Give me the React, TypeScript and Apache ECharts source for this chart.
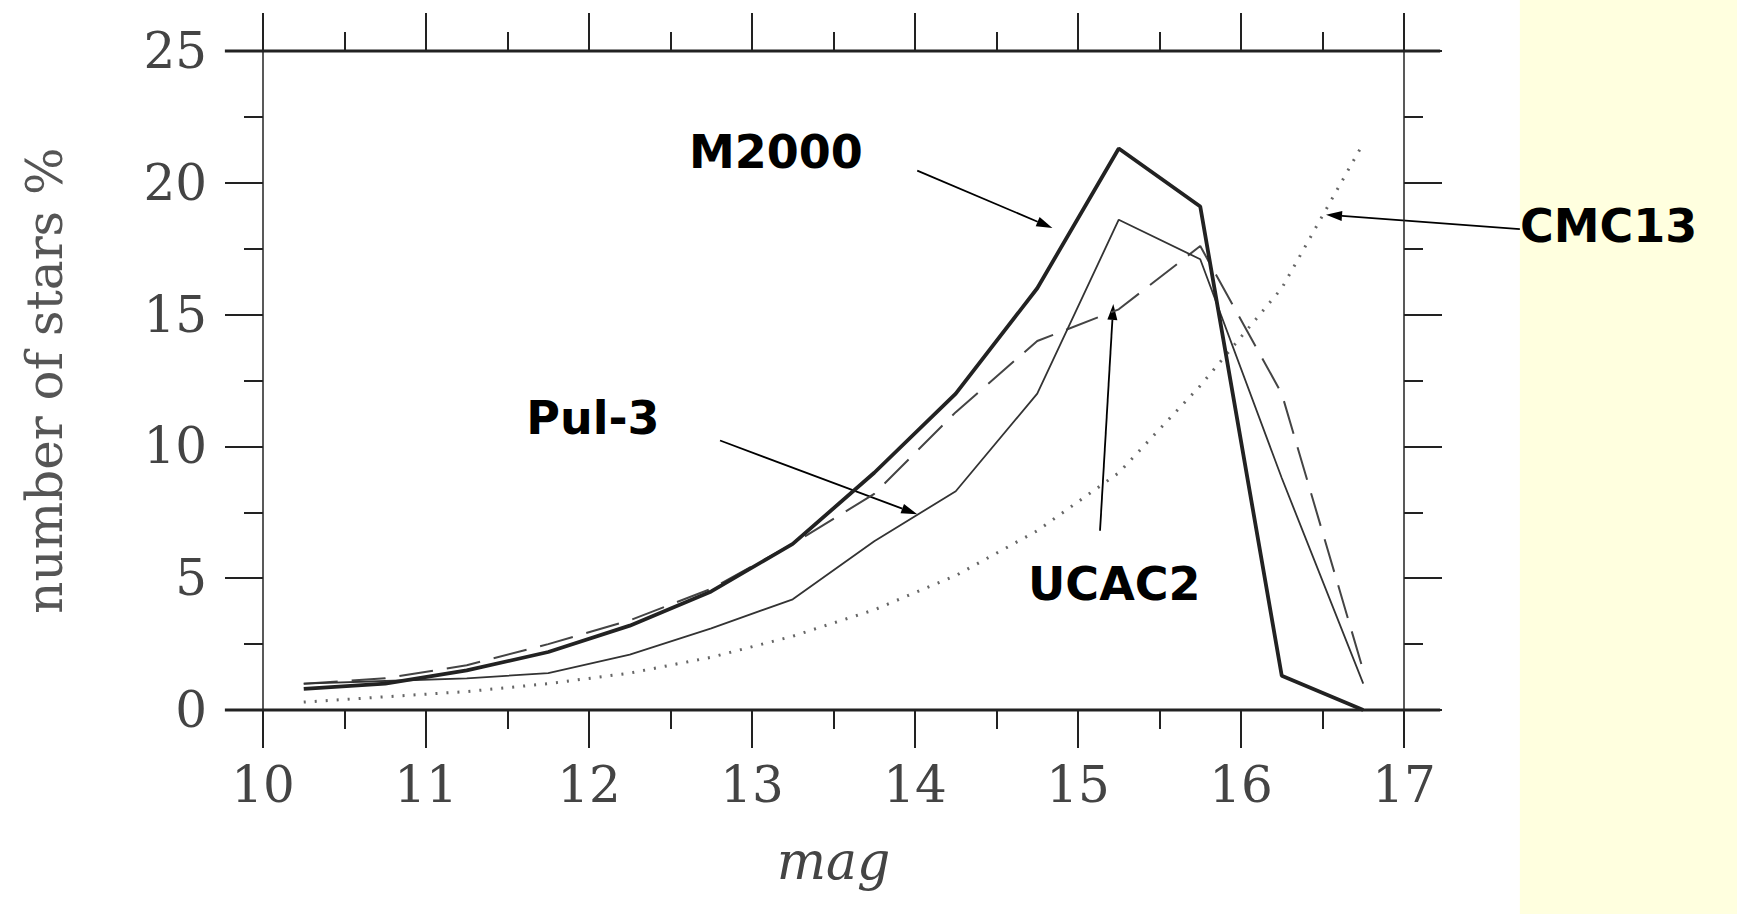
import * as echarts from 'echarts';
import React, { useEffect, useRef } from 'react';

const mags = [10.25, 10.75, 11.25, 11.75, 12.25, 12.75, 13.25, 13.75, 14.25, 14.75, 15.25, 15.75, 16.25, 16.75];
const m2000 = [0.8, 1.0, 1.5, 2.2, 3.2, 4.5, 6.3, 9.0, 12.0, 16.0, 21.3, 19.1, 1.3, 0];
const pul3 = [1.0, 1.1, 1.2, 1.4, 2.1, 3.1, 4.2, 6.4, 8.3, 12.0, 18.6, 17.1, 8.8, 1.0];
const ucac2 = [1.0, 1.2, 1.7, 2.5, 3.4, 4.6, 6.3, 8.2, 11.3, 14.0, 15.2, 17.6, 12.0, 1.5];
const cmc13 = [0.3, 0.5, 0.7, 1.0, 1.4, 2.0, 2.8, 3.8, 5.1, 6.8, 9.0, 12.3, 16.0, 21.5];

const toPairs = (ys: number[]) => mags.map((m, i) => [m, ys[i]]);

// reference was drawn at 1568x830; scale to the window
const fx = 1737 / 1568;
const fy = 914 / 830;

const arrow = (x1: number, y1: number, x2: number, y2: number) => {
  const ax = x1 * fx, ay = y1 * fy, bx = x2 * fx, by = y2 * fy;
  const ang = Math.atan2(by - ay, bx - ax);
  const len = 16, w = 5;
  const px = bx - len * Math.cos(ang), py = by - len * Math.sin(ang);
  return [
    { type: 'line', shape: { x1: ax, y1: ay, x2: px, y2: py }, style: { stroke: '#000', lineWidth: 1.8 } },
    {
      type: 'polygon',
      shape: {
        points: [
          [bx, by],
          [px - w * Math.sin(ang), py + w * Math.cos(ang)],
          [px + w * Math.sin(ang), py - w * Math.cos(ang)],
        ],
      },
      style: { fill: '#000' },
    },
  ];
};

const label = (text: string, x: number, y: number) => ({
  type: 'text',
  x: x * fx,
  y: y * fy,
  style: { text, fill: '#000', font: 'bold 46px "DejaVu Sans"', textVerticalAlign: 'middle' },
});

const App: React.FC = () => {
  const chartRef = useRef<HTMLDivElement>(null);

  useEffect(() => {
    if (!chartRef.current) return;
    const chart = echarts.init(chartRef.current, null, { renderer: 'svg' });
    const axisFont = { fontFamily: '"DejaVu Serif"', fontSize: 50, color: '#444' };
    const tickStyle = { color: '#222', width: 2 };
    chart.setOption({
      animation: false,
      backgroundColor: '#fff',
      grid: { left: 263, right: 333, top: 51, bottom: 204 },
      xAxis: [
        {
          type: 'value', min: 10, max: 17, interval: 1, position: 'bottom',
          name: 'mag', nameLocation: 'middle', nameGap: 125,
          nameTextStyle: { ...axisFont, fontStyle: 'italic', fontSize: 52 },
          axisLine: { show: false, onZero: false },
          axisTick: { show: true, inside: false, length: 38, lineStyle: tickStyle },
          minorTick: { show: true, splitNumber: 2, length: 19, lineStyle: tickStyle },
          axisLabel: { ...axisFont, margin: 50 },
          splitLine: { show: false },
        },
        {
          type: 'value', min: 10, max: 17, interval: 1, position: 'top',
          axisLine: { show: false, onZero: false },
          axisTick: { show: true, inside: false, length: 38, lineStyle: tickStyle },
          minorTick: { show: true, splitNumber: 2, length: 19, lineStyle: tickStyle },
          axisLabel: { show: false },
          splitLine: { show: false },
        },
      ],
      yAxis: [
        {
          type: 'value', min: 0, max: 25, interval: 5, position: 'left',
          name: 'number of stars %', nameLocation: 'middle', nameGap: 193, nameRotate: 90,
          nameTextStyle: { ...axisFont, fontSize: 50, color: '#555' },
          axisLine: { show: true, onZero: false, lineStyle: { color: '#222', width: 1.5 } },
          axisTick: { show: true, inside: false, length: 38, lineStyle: tickStyle },
          minorTick: { show: true, splitNumber: 2, length: 19, lineStyle: tickStyle },
          axisLabel: { ...axisFont, margin: 56 },
          splitLine: { show: false },
        },
        {
          type: 'value', min: 0, max: 25, interval: 5, position: 'right',
          axisLine: { show: true, onZero: false, lineStyle: { color: '#222', width: 1.5 } },
          axisTick: { show: true, inside: false, length: 38, lineStyle: tickStyle },
          minorTick: { show: true, splitNumber: 2, length: 19, lineStyle: tickStyle },
          axisLabel: { show: false },
          splitLine: { show: false },
        },
      ],
      series: [
        { name: 'CMC13', type: 'line', data: toPairs(cmc13), showSymbol: false, lineStyle: { color: '#666', width: 3, type: [2, 9] } },
        { name: 'UCAC2', type: 'line', data: toPairs(ucac2), showSymbol: false, lineStyle: { color: '#444', width: 2, type: [34, 14] } },
        { name: 'Pul-3', type: 'line', data: toPairs(pul3), showSymbol: false, lineStyle: { color: '#333', width: 1.8 } },
        { name: 'M2000', type: 'line', data: toPairs(m2000), showSymbol: false, lineStyle: { color: '#222', width: 3.8 } },
      ],
      graphic: [
        { type: 'rect', shape: { x: 1372 * fx, y: 0, width: 1737, height: 914 }, style: { fill: '#FFFFDF' }, z: -10 },
        { type: 'line', shape: { x1: 203 * fx, y1: 51, x2: 1300 * fx, y2: 51 }, style: { stroke: '#222', lineWidth: 3 } },
        { type: 'line', shape: { x1: 203 * fx, y1: 710, x2: 1300 * fx, y2: 710 }, style: { stroke: '#222', lineWidth: 3 } },
        label('M2000', 622, 138),
        label('Pul-3', 475, 380),
        label('UCAC2', 928, 530),
        label('CMC13', 1372, 205),
        ...arrow(828, 155, 950, 207),
        ...arrow(650, 400, 828, 467),
        ...arrow(993, 482, 1005, 276),
        ...arrow(1372, 208, 1197, 195),
      ],
    });
    return () => chart.dispose();
  }, []);

  return <div ref={chartRef} style={{ position: 'fixed', left: 0, top: 0, width: '1737px', height: '914px' }} />;
};

export default App;
